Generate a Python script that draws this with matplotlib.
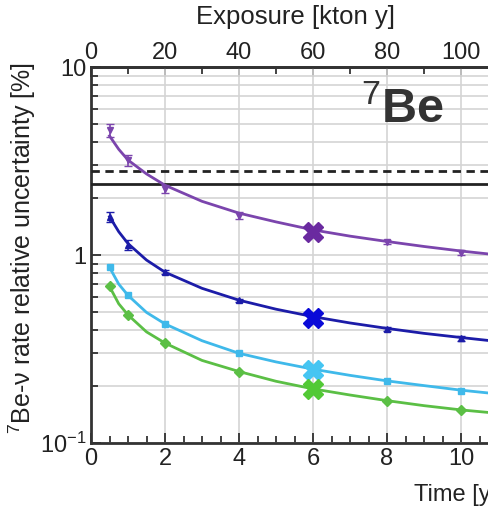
import numpy as np
import matplotlib
matplotlib.use('Agg')
import matplotlib.pyplot as plt
from matplotlib.ticker import FixedLocator, LogLocator, NullFormatter, FixedFormatter

matplotlib.rcParams['font.family'] = 'Liberation Sans'
matplotlib.rcParams['mathtext.fontset'] = 'custom'
matplotlib.rcParams['mathtext.rm'] = 'Liberation Sans'
matplotlib.rcParams['mathtext.it'] = 'Liberation Sans:italic'

# data
t_pts = [0.5, 1, 2, 4, 8, 10]
purple_pts = [4.6, 3.2, 2.25, 1.62, 1.17, 1.03]
purple_err = [0.35, 0.22, 0.12, 0.07, 0.03, 0.03]
blue_pts = [1.6, 1.13, 0.81, 0.575, 0.405, 0.36]
blue_err = [0.1, 0.07, 0.02, 0.01, 0.01, 0.01]
cyan_pts = [0.86, 0.61, 0.43, 0.30, 0.213, 0.19]
green_pts = [0.68, 0.48, 0.34, 0.24, 0.168, 0.15]

t_x = 6
x_vals = [1.33, 0.465, 0.245, 0.193]

t_curve = [0.5, 0.75, 1, 1.5, 2, 3, 4, 5, 6, 7, 8, 9, 10, 10.8]
purple_curve = [4.3, 3.65, 3.2, 2.7, 2.35, 1.93, 1.67, 1.5, 1.36, 1.26, 1.18, 1.11, 1.05, 1.01]
blue_curve = [1.6, 1.33, 1.15, 0.94, 0.81, 0.665, 0.575, 0.515, 0.47, 0.435, 0.407, 0.383, 0.364, 0.35]
cyan_curve = [0.86, 0.70, 0.61, 0.495, 0.43, 0.35, 0.30, 0.27, 0.247, 0.229, 0.214, 0.202, 0.191, 0.184]
green_curve = [0.68, 0.55, 0.48, 0.39, 0.34, 0.275, 0.24, 0.213, 0.194, 0.18, 0.168, 0.158, 0.150, 0.145]

solid_level = 2.39
dashed_level = 2.8

colors = ['#7b45ad', '#1c1ca8', '#3fb9ea', '#5bbf45']
xcolors = ['#6a2aa0', '#0a0ad8', '#45c5f2', '#52c935']

fig = plt.figure(figsize=(4.88, 5.12), dpi=100)
ax = fig.add_axes([91/488., 1 - 443/512., 1 - 91/488., (443 - 67)/512.])
ax.set_yscale('log')
ax.set_xlim(0, 397/37.)
ax.set_ylim(0.1, 10)

ax.axhline(solid_level, color='#222222', lw=2, zorder=3)
ax.axhline(dashed_level, color='#222222', lw=2, ls=(0, (3, 2)), zorder=3)

curves = [purple_curve, blue_curve, cyan_curve, green_curve]
pts = [purple_pts, blue_pts, cyan_pts, green_pts]
markers = ['v', '^', 's', 'D']
for i in range(4):
	ax.plot(t_curve, curves[i], color=colors[i], lw=2, zorder=4)
	ax.plot(t_pts, pts[i], ls='none', marker=markers[i], ms=5, color=colors[i], zorder=5)
	ax.plot([t_x], [x_vals[i]], ls='none', marker='X', ms=14, color=xcolors[i], mec=xcolors[i], zorder=6)
ax.errorbar(t_pts, purple_pts, yerr=purple_err, fmt='none', ecolor=colors[0], capsize=3, lw=1.2, zorder=5)
ax.errorbar(t_pts, blue_pts, yerr=blue_err, fmt='none', ecolor=colors[1], capsize=3, lw=1.2, zorder=5)

ax.set_xticks([0, 2, 4, 6, 8, 10])
ax.xaxis.set_minor_locator(FixedLocator(np.arange(0, 11, 0.5)))
ax.yaxis.set_major_locator(FixedLocator([0.1, 1, 10]))
ax.yaxis.set_major_formatter(FixedFormatter([r'$10^{-1}$', '1', '10']))
ax.yaxis.set_minor_locator(LogLocator(base=10, subs=np.arange(2, 10)))
ax.yaxis.set_minor_formatter(NullFormatter())
ax.tick_params(which='both', direction='in', width=1.2, labelsize=17, colors='#222222', right=False)
ax.tick_params(which='major', length=7)
ax.tick_params(which='minor', length=5)
ax.grid(True, which='both', axis='y', color='#d4d4d4', lw=1.2, zorder=0)
ax.grid(True, which='major', axis='x', color='#d4d4d4', lw=1.2, zorder=0)
for s in ['left', 'bottom', 'top']:
	ax.spines[s].set_linewidth(2)
	ax.spines[s].set_color('#333333')
ax.spines['right'].set_visible(False)

top = ax.secondary_xaxis('top', functions=(lambda t: t*10., lambda e: e/10.))
top.set_xticks([0, 20, 40, 60, 80, 100])
top.xaxis.set_minor_locator(FixedLocator(np.arange(0, 110, 10)))
top.tick_params(which='both', direction='in', width=1.2, labelsize=17, colors='#222222', pad=2)
top.tick_params(which='major', length=7)
top.tick_params(which='minor', length=5)
top.spines['top'].set_linewidth(2)
top.spines['top'].set_color('#333333')

ax.text(7.3, 5.9, r'$^{7}$Be', fontsize=35, fontweight='bold', color='#333333', ha='left', va='center', zorder=7)

fig.text(295/488., 1 - 17/512., 'Exposure [kton y]', fontsize=18.5, ha='center', va='center', color='#222222')
# the reference image is cropped on the right, so this label is cut too
fig.text(414/488., 1 - 495/512., 'Time [y]', fontsize=17, ha='left', va='center', color='#222222')
fig.text(22/488., 1 - 248/512., r'$^{7}$Be-ν rate relative uncertainty [%]', fontsize=18,
	rotation=90, ha='center', va='center', color='#222222')

plt.savefig('out.png', dpi=100)
